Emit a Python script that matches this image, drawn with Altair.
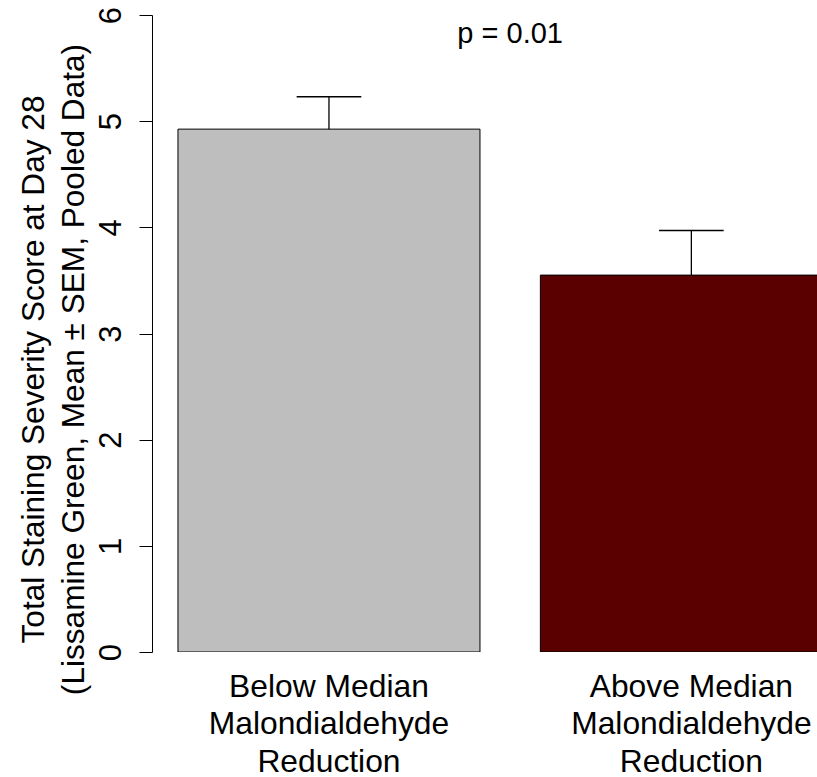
import altair as alt
import pandas as pd

# ---- data ----
categories = ["Below Median\nMalondialdehyde\nReduction",
              "Above Median\nMalondialdehyde\nReduction"]
means = [4.925, 3.55]
sems = [0.305, 0.42]
colors = ["#BEBEBE", "#5B0000"]
y_ticks = [0, 1, 2, 3, 4, 5, 6]
p_label = "p = 0.01"
y_title = ["Total Staining Severity Score at Day 28",
           "(Lissamine Green, Mean \u00b1 SEM, Pooled Data)"]

FONT = "Liberation Sans"

rows = []
for i, (c, m, s) in enumerate(zip(categories, means, sems)):
    left = 0.2 + i * 1.2          # R barplot layout: width 1, space 0.2
    rows.append(dict(cat=c, left=left, right=left + 1.0, center=left + 0.5,
                     mean=m, top=m + s, capl=left + 0.5 - 0.107,
                     capr=left + 0.5 + 0.107))
df = pd.DataFrame(rows)

xscale = alt.Scale(domain=[0.114, 2.316], nice=False, zero=False)
yscale = alt.Scale(domain=[0, 6], nice=False)

base = alt.Chart(df)

bars = base.mark_bar(stroke="black", strokeWidth=1, clip=True, opacity=1).encode(
    x=alt.X("left:Q", scale=xscale, axis=None),
    x2="right:Q",
    y=alt.Y("mean:Q", scale=yscale,
            axis=alt.Axis(values=y_ticks, format="d", title=y_title, grid=False,
                          domainColor="black", tickColor="black",
                          tickSize=13, tickWidth=1, domainWidth=1,
                          labelFontSize=31, labelFont=FONT, labelColor="black",
                          labelAngle=270, labelAlign="center",
                          labelBaseline="alphabetic", labelPadding=19,
                          labelOverlap=False, labelFlush=False,
                          titleFontSize=31.6, titleFont=FONT, titleColor="black",
                          titleFontWeight="normal", titleAngle=270,
                          titleAlign="center", titleBaseline="alphabetic",
                          titleLineHeight=40, titleX=-109, titleY=354)),
    y2=alt.datum(0),
    color=alt.Color("cat:N", scale=alt.Scale(domain=categories, range=colors),
                    legend=None),
)

stems = base.mark_rule(color="black", strokeWidth=1.3).encode(
    x=alt.X("center:Q", scale=xscale),
    y=alt.Y("mean:Q", scale=yscale),
    y2="top:Q",
)

caps = base.mark_rule(color="black", strokeWidth=1.3).encode(
    x=alt.X("capl:Q", scale=xscale),
    x2="capr:Q",
    y=alt.Y("top:Q", scale=yscale),
)

xlabels = base.mark_text(fontSize=31.8, font=FONT, color="black", lineBreak="\n",
                         lineHeight=37.5, align="center",
                         baseline="alphabetic").encode(
    x=alt.X("center:Q", scale=xscale),
    y=alt.value(681.5),
    text="cat:N",
)

pdf = pd.DataFrame({"label": [p_label],
                    "x": [(df["center"].iloc[0] + df["center"].iloc[1]) / 2],
                    "y": [5.74]})
ptext = alt.Chart(pdf).mark_text(fontSize=29, font=FONT, color="black",
                                 align="center", baseline="alphabetic").encode(
    x=alt.X("x:Q", scale=xscale),
    y=alt.Y("y:Q", scale=yscale),
    text="label:N",
)

chart = alt.layer(bars, stems, caps, xlabels, ptext).properties(
    width=665, height=637,
    autosize=alt.AutoSizeParams(type="none"),
    padding={"left": 152, "top": 15, "right": 0, "bottom": 125},
    background="white",
).configure_view(stroke=None)

chart.save("out.html", embed_options={"renderer": "svg", "actions": False})
